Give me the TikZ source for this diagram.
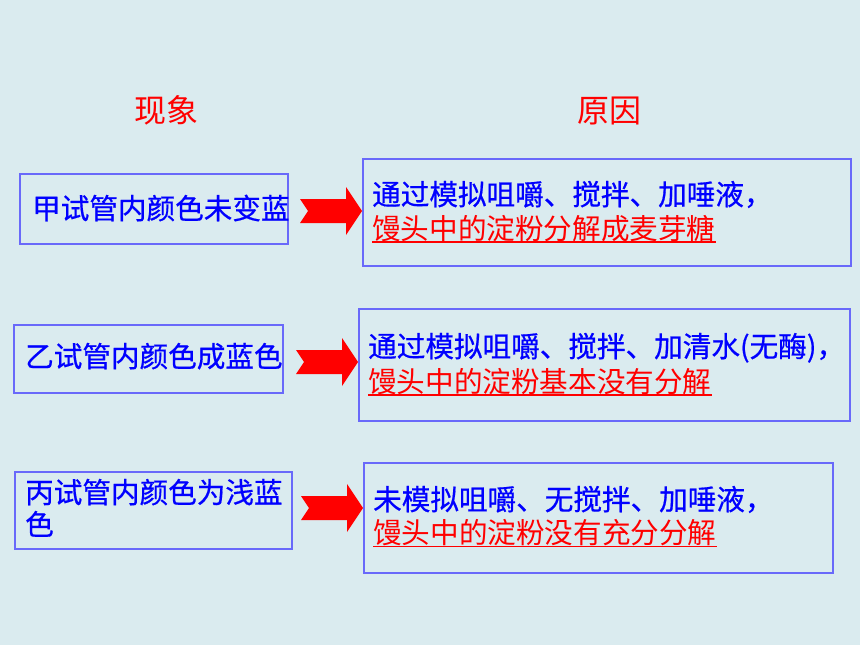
\documentclass[tikz,border=0pt]{standalone}
\usepackage{fontspec}
\newfontfamily\cjk{Noto Sans CJK SC}
\newfontfamily\cjkb{Noto Sans CJK SC}[FakeBold=0.6]
\usetikzlibrary{calc}
\definecolor{bg}{RGB}{218,235,239}
\definecolor{boxline}{RGB}{105,105,250}
\definecolor{tblue}{RGB}{0,0,255}
\definecolor{tred}{RGB}{255,0,0}
\begin{document}
\begin{tikzpicture}[x=1pt,y=-1pt,
  frame/.style={draw=boxline, line width=1.5pt, inner sep=0pt, anchor=north west},
  bluetext/.style={inner sep=0pt, anchor=base west, text=tblue, font={\cjkb\fontsize{28.6}{34}\selectfont}},
  redtext/.style={inner sep=0pt, anchor=base west, text=tred, font={\cjk\fontsize{28.6}{34}\selectfont}},
  titletext/.style={inner sep=0pt, text=tred, font={\cjk\fontsize{32}{36}\selectfont}},
  uline/.style={draw=tred, line width=1.3pt},
  blockarrow/.pic={\fill[tred] (0,-12) -- (46,-12) -- (46,-24) -- (62,0) -- (46,24) -- (46,12) -- (0,12) -- (8,0) -- cycle;}
]
\fill[bg] (0,0) rectangle (860,645);
\useasboundingbox (0,0) rectangle (860,645);

% titles
\node[titletext] (h1) at (166,110) {现象};
\node[titletext] (h2) at (609,111) {原因};

% left boxes
\node[frame, minimum width=268pt, minimum height=70pt] (l1) at (19,173) {};
\node[frame, minimum width=269pt, minimum height=68pt] (l2) at (13,324) {};
\node[frame, minimum width=277pt, minimum height=77pt] (l3) at (14,471) {};

% right boxes
\node[frame, minimum width=488pt, minimum height=107pt] (r1) at (362,158) {};
\node[frame, minimum width=491pt, minimum height=112pt] (r2) at (358,308) {};
\node[frame, minimum width=469pt, minimum height=110pt] (r3) at (363,462) {};

% left texts
\node[bluetext] (t1) at (32,219) {甲试管内颜色未变蓝};
\node[bluetext] (t2) at (25,367) {乙试管内颜色成蓝色};
\node[bluetext] (t3) at (25,503) {丙试管内颜色为浅蓝};
\node[bluetext] (t3b) at (25,535) {色};

% right texts
\node[bluetext] (s1) at (372,205) {通过模拟咀嚼、搅拌、加唾液，};
\node[redtext] (s1b) at (372,239) {馒头中的淀粉分解成麦芽糖};
\node[bluetext] (s2) at (368,357) {通过模拟咀嚼、搅拌、加清水(无酶)，};
\node[redtext] (s2b) at (368,392) {馒头中的淀粉基本没有分解};
\node[bluetext] (s3) at (373,510) {未模拟咀嚼、无搅拌、加唾液，};
\node[redtext] (s3b) at (373,543) {馒头中的淀粉没有充分分解};

% underlines
\draw[uline] ($(s1b.base west)+(0,3)$) -- ($(s1b.base east)+(0,3)$);
\draw[uline] ($(s2b.base west)+(0,3)$) -- ($(s2b.base east)+(0,3)$);
\draw[uline] ($(s3b.base west)+(0,3.5)$) -- ($(s3b.base east)+(0,3.5)$);

% arrows
\coordinate (a1) at (300,211);
\coordinate (a2) at (296,362);
\coordinate (a3) at (301,508);
\pic at (a1) {blockarrow};
\pic at (a2) {blockarrow};
\pic at (a3) {blockarrow};
\end{tikzpicture}
\end{document}
